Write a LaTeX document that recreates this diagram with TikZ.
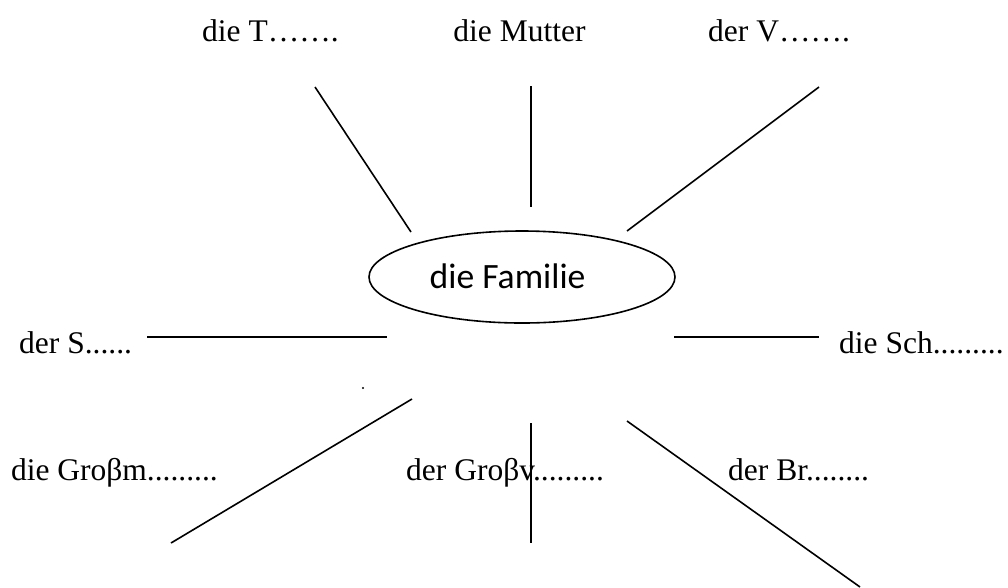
\documentclass[tikz,border=0pt]{standalone}
\usepackage{fontspec}
\setmainfont{Liberation Serif}
\newfontfamily\calibrifont{Carlito}
\usetikzlibrary{shapes.geometric}
\begin{document}
\begin{tikzpicture}[x=1pt,y=-1pt,
  lbl/.style={inner sep=0pt, font=\fontsize{31.5}{36}\selectfont},
  spoke/.style={line width=1.6pt},
  famshape/.style={draw, ellipse, line width=1.6pt, minimum width=306pt, minimum height=92pt, inner sep=0pt}]
\useasboundingbox (0,0) rectangle (1008,587);
% central ellipse
\node[famshape] (fam) at (522,277) {};
\node[inner sep=0pt, anchor=base west, font=\calibrifont\fontsize{35.6}{40}\selectfont] (famtext) at (429.5,288) {die Familie};
% labels
\node[lbl, anchor=base west] (tochter) at (202,41) {die T…….};
\node[lbl, anchor=base] (mutter) at (519.5,41) {die Mutter};
\node[lbl, anchor=base west] (vater) at (708,41) {der V…….};
\node[lbl, anchor=base west] (sohn) at (19,353) {der S......};
\node[lbl, anchor=base west] (schw) at (839,353) {die Sch.........};
\node[lbl, anchor=base east] (gm) at (218,480) {die Groβm.........};
\node[lbl, anchor=base west] (gv) at (406,480) {der Groβv.........};
\node[lbl, anchor=base west] (br) at (728,480) {der Br........};
% spoke end points
\coordinate (a1) at (315,87);  \coordinate (a2) at (411,232);
\coordinate (b1) at (531,86);  \coordinate (b2) at (531,207);
\coordinate (c1) at (819,87);  \coordinate (c2) at (627,231);
\coordinate (d1) at (147,337); \coordinate (d2) at (387,337);
\coordinate (e1) at (674,337); \coordinate (e2) at (819,337);
\coordinate (f1) at (412,399); \coordinate (f2) at (171,543);
\coordinate (g1) at (531,423); \coordinate (g2) at (531,543);
\coordinate (h1) at (627,421); \coordinate (h2) at (860,587);
\draw[spoke] (a1) -- (a2);
\draw[spoke] (b1) -- (b2);
\draw[spoke] (c1) -- (c2);
\draw[spoke] (d1) -- (d2);
\draw[spoke] (e1) -- (e2);
\draw[spoke] (f1) -- (f2);
\draw[spoke] (g1) -- (g2);
\draw[spoke] (h1) -- (h2);
% stray dot
\node[circle, fill, inner sep=0pt, minimum size=2.4pt] (dot) at (363,388) {};
\end{tikzpicture}
\end{document}
